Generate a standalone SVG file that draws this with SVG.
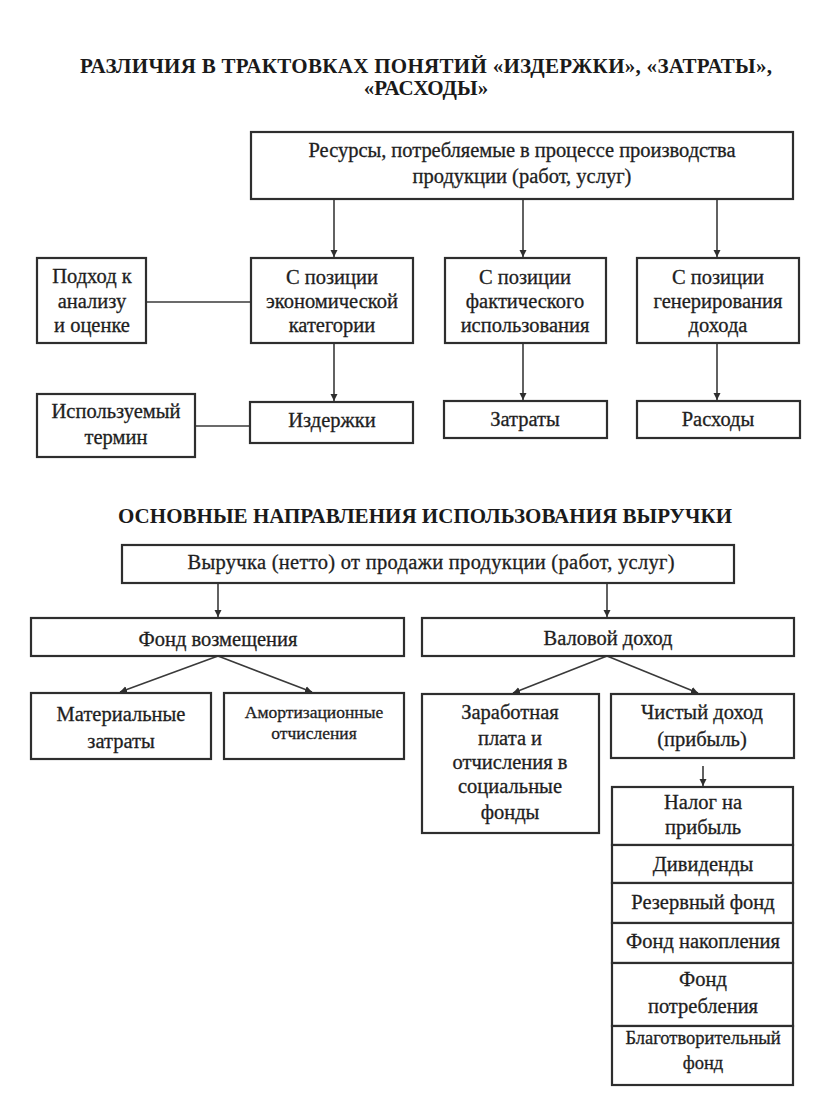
<svg xmlns="http://www.w3.org/2000/svg" width="816" height="1108" viewBox="0 0 816 1108" font-family="Liberation Serif">
<style>
.bg{fill:#ffffff}
.box{fill:#ffffff;stroke:#2e2e2e;stroke-width:2.2}
.t{font-family:'Liberation Serif',serif;font-size:20.5px;fill:#1e1e1e;stroke:#1e1e1e;stroke-width:0.3;text-anchor:middle}
.s17{font-size:17.5px}
.s18{font-size:18.5px}
.title{font-family:'Liberation Serif',serif;font-size:21px;font-weight:bold;fill:#1a1a1a;text-anchor:middle}
.ln{stroke:#3a3a3a;stroke-width:1.6;fill:none}
.ar{stroke:#3a3a3a;stroke-width:1.6;fill:none;marker-end:url(#ah)}
</style>
<defs>
<marker id="ah" markerWidth="8" markerHeight="8" refX="7" refY="4" orient="auto" markerUnits="userSpaceOnUse">
<path d="M0,0.5 L7,4 L0,7.5 Z" fill="#2e2e2e"/>
</marker>
</defs>
<rect class="bg" x="0" y="0" width="816" height="1108"/>

<g id="title1" font-family="Liberation Serif">
<text class="title" x="426" y="73" textLength="692">РАЗЛИЧИЯ В ТРАКТОВКАХ ПОНЯТИЙ «ИЗДЕРЖКИ», «ЗАТРАТЫ»,</text>
<text class="title" x="426" y="95">«РАСХОДЫ»</text>
</g>

<g id="connectors">
<line class="ar" x1="334" y1="199" x2="334" y2="257"/>
<line class="ar" x1="523" y1="199" x2="523" y2="257"/>
<line class="ar" x1="717" y1="199" x2="717" y2="257"/>
<line class="ln" x1="146" y1="302" x2="251" y2="302"/>
<line class="ar" x1="334" y1="343" x2="334" y2="401"/>
<line class="ar" x1="523" y1="343" x2="523" y2="400"/>
<line class="ar" x1="717" y1="343" x2="717" y2="400"/>
<line class="ln" x1="195" y1="426" x2="250" y2="426"/>
<line class="ar" x1="218" y1="583" x2="218" y2="617"/>
<line class="ar" x1="607" y1="583" x2="607" y2="617"/>
<line class="ar" x1="218" y1="656" x2="120" y2="692"/>
<line class="ar" x1="218" y1="656" x2="312" y2="692"/>
<line class="ar" x1="607" y1="656" x2="513" y2="693"/>
<line class="ar" x1="607" y1="656" x2="698" y2="693"/>
<line class="ar" x1="703" y1="766" x2="703" y2="786"/>
</g>

<g id="resources" font-family="Liberation Serif">
<rect class="box" x="251" y="132" width="542" height="67"/>
<text class="t" x="522" y="157" textLength="427">Ресурсы, потребляемые в процессе производства</text>
<text class="t" x="522" y="183">продукции (работ, услуг)</text>
</g>

<g id="approach" font-family="Liberation Serif">
<rect class="box" x="37" y="258" width="109" height="85"/>
<text class="t" x="92" y="283">Подход к</text>
<text class="t" x="92" y="308">анализу</text>
<text class="t" x="92" y="332">и оценке</text>
</g>

<g id="economic" font-family="Liberation Serif">
<rect class="box" x="251" y="258" width="162" height="85"/>
<text class="t" x="332" y="284">С позиции</text>
<text class="t" x="332" y="308">экономической</text>
<text class="t" x="332" y="332">категории</text>
</g>

<g id="actual" font-family="Liberation Serif">
<rect class="box" x="445" y="258" width="161" height="85"/>
<text class="t" x="525" y="284">С позиции</text>
<text class="t" x="525" y="308">фактического</text>
<text class="t" x="525" y="332">использования</text>
</g>

<g id="income" font-family="Liberation Serif">
<rect class="box" x="637" y="258" width="162" height="85"/>
<text class="t" x="718" y="284">С позиции</text>
<text class="t" x="718" y="308">генерирования</text>
<text class="t" x="718" y="332">дохода</text>
</g>

<g id="term" font-family="Liberation Serif">
<rect class="box" x="37" y="394" width="158" height="63"/>
<text class="t" x="116" y="418">Используемый</text>
<text class="t" x="116" y="444">термин</text>
</g>

<g id="costs" font-family="Liberation Serif">
<rect class="box" x="250" y="402" width="163" height="41"/>
<text class="t" x="332" y="427">Издержки</text>
</g>

<g id="expenses" font-family="Liberation Serif">
<rect class="box" x="444" y="401" width="163" height="37"/>
<text class="t" x="525" y="426">Затраты</text>
</g>

<g id="spending" font-family="Liberation Serif">
<rect class="box" x="637" y="401" width="163" height="37"/>
<text class="t" x="718" y="426">Расходы</text>
</g>

<g id="title2" font-family="Liberation Serif">
<text class="title" x="425" y="523" textLength="614">ОСНОВНЫЕ НАПРАВЛЕНИЯ ИСПОЛЬЗОВАНИЯ ВЫРУЧКИ</text>
</g>

<g id="revenue" font-family="Liberation Serif">
<rect class="box" x="122" y="545" width="612" height="38"/>
<text class="t" x="431" y="569" textLength="487">Выручка (нетто) от продажи продукции (работ, услуг)</text>
</g>

<g id="reimbursement" font-family="Liberation Serif">
<rect class="box" x="31" y="618" width="373" height="38"/>
<text class="t" x="218" y="646">Фонд возмещения</text>
</g>

<g id="gross" font-family="Liberation Serif">
<rect class="box" x="422" y="618" width="372" height="38"/>
<text class="t" x="608" y="645">Валовой доход</text>
</g>

<g id="material" font-family="Liberation Serif">
<rect class="box" x="31" y="693" width="180" height="66"/>
<text class="t" x="121" y="721">Материальные</text>
<text class="t" x="121" y="748">затраты</text>
</g>

<g id="depreciation" font-family="Liberation Serif">
<rect class="box" x="224" y="693" width="180" height="66"/>
<text class="t s17" x="314" y="718">Амортизационные</text>
<text class="t s17" x="314" y="739">отчисления</text>
</g>

<g id="wages" font-family="Liberation Serif">
<rect class="box" x="422" y="694" width="177" height="139"/>
<text class="t" x="510" y="719">Заработная</text>
<text class="t" x="510" y="745">плата и</text>
<text class="t" x="510" y="769">отчисления в</text>
<text class="t" x="510" y="793">социальные</text>
<text class="t" x="510" y="819">фонды</text>
</g>

<g id="netincome" font-family="Liberation Serif">
<rect class="box" x="611" y="694" width="183" height="64"/>
<text class="t" x="702" y="719">Чистый доход</text>
<text class="t" x="702" y="746">(прибыль)</text>
</g>

<g id="tax" font-family="Liberation Serif">
<rect class="box" x="612" y="787" width="181" height="58"/>
<text class="t" x="703" y="809">Налог на</text>
<text class="t" x="703" y="834">прибыль</text>
</g>

<g id="dividends" font-family="Liberation Serif">
<rect class="box" x="612" y="845" width="181" height="38"/>
<text class="t" x="703" y="871">Дивиденды</text>
</g>

<g id="reserve" font-family="Liberation Serif">
<rect class="box" x="612" y="883" width="181" height="40"/>
<text class="t" x="703" y="909">Резервный фонд</text>
</g>

<g id="accumulation" font-family="Liberation Serif">
<rect class="box" x="612" y="923" width="181" height="40"/>
<text class="t" x="703" y="948">Фонд накопления</text>
</g>

<g id="consumption" font-family="Liberation Serif">
<rect class="box" x="612" y="963" width="181" height="63"/>
<text class="t" x="703" y="986">Фонд</text>
<text class="t" x="703" y="1013">потребления</text>
</g>

<g id="charity" font-family="Liberation Serif">
<rect class="box" x="612" y="1026" width="181" height="59"/>
<text class="t s18" x="703" y="1044">Благотворительный</text>
<text class="t s18" x="703" y="1069">фонд</text>
</g>
</svg>
